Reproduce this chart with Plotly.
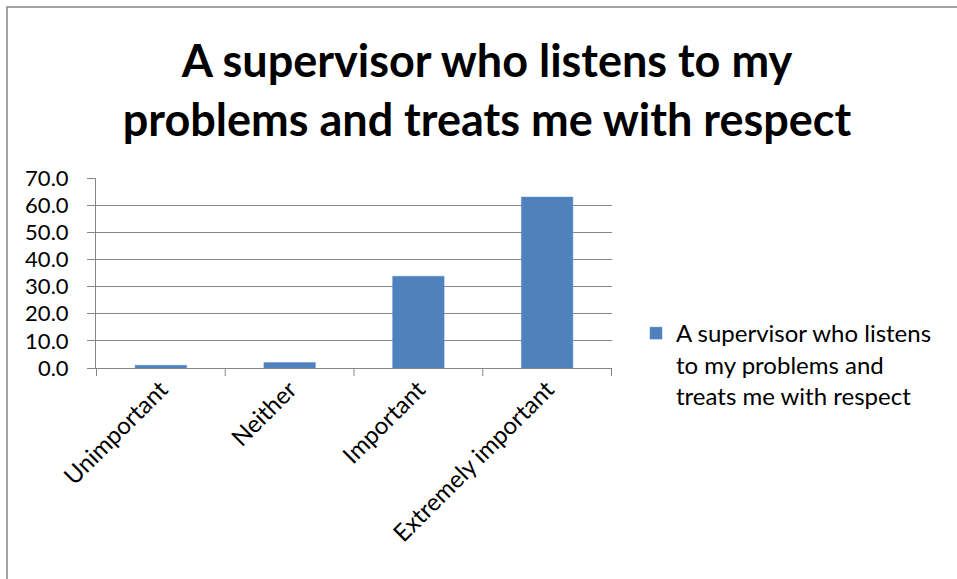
import plotly.graph_objects as go

categories = ["Unimportant", "Neither", "Important", "Extremely important"]
values = [1.0, 2.0, 33.8, 63.0]
series_name = "A supervisor who listens<br>to my problems and<br>treats me with respect"
title_text = "A supervisor who listens to my<br>problems and treats me with respect"
y_ticks = [0, 10, 20, 30, 40, 50, 60, 70]
y_tick_labels = [f"{v:.1f}" for v in y_ticks]

W, H = 957, 579
FONT = "Lato"
L, R, T, B = 96, 612, 178, 368   # plot area edges in pixels
PW, PH = R - L, B - T

fig = go.Figure()
fig.add_trace(go.Bar(
    x=categories,
    y=values,
    name=series_name,
    marker=dict(color="#4F81BD", line=dict(color="#5B8FCC", width=0.5)),
    showlegend=True,
))

fig.update_layout(
    width=W,
    height=H,
    margin=dict(l=L, r=W - R, t=T, b=H - B, autoexpand=False),
    paper_bgcolor="white",
    plot_bgcolor="white",
    bargap=0.6,
    font=dict(family=FONT, size=22, color="#000000"),
    title=dict(
        text="<b>" + title_text + "</b>",
        x=487 / W,
        xanchor="center",
        y=1 - 77 / H,
        yanchor="middle",
        yref="container",
        font=dict(family=FONT, size=45, color="#000000"),
    ),
    showlegend=True,
    legend=dict(
        x=(636 - L) / PW,
        xanchor="left",
        y=(B - 311) / PH,
        yanchor="top",
        valign="top",
        font=dict(family=FONT, size=24, color="#000000"),
        itemwidth=30,
        tracegroupgap=0,
    ),
    xaxis=dict(
        type="category",
        tickangle=-45,
        showgrid=False,
        showline=True,
        linecolor="#868686",
        linewidth=1,
        ticks="",
        ticklabelstandoff=-3,
        tickfont=dict(family=FONT, size=24),
    ),
    yaxis=dict(
        range=[0, 70],
        tickvals=y_ticks,
        ticktext=y_tick_labels,
        showgrid=True,
        gridcolor="#868686",
        gridwidth=1,
        showline=True,
        linecolor="#868686",
        linewidth=1,
        ticks="outside",
        ticklen=8,
        tickcolor="#868686",
        zeroline=False,
        ticklabelstandoff=14,
        tickfont=dict(family=FONT, size=22),
    ),
)

# category boundary tick marks below the x axis
for i in range(len(categories) + 1):
    fig.add_shape(
        type="line",
        xref="x", yref="paper",
        x0=i - 0.5, x1=i - 0.5,
        y0=0, y1=-8 / PH,
        line=dict(color="#868686", width=1),
    )

# chart area border (right and bottom edges fall outside the page)
fig.add_shape(
    type="rect",
    xref="paper", yref="paper",
    x0=(7 - L) / PW, x1=(W + 20 - L) / PW,
    y0=-(H + 20 - B) / PH, y1=(B - 7) / PH,
    line=dict(color="#868686", width=1.5),
    fillcolor="rgba(0,0,0,0)",
    layer="below",
)

fig.write_html("out.html")
